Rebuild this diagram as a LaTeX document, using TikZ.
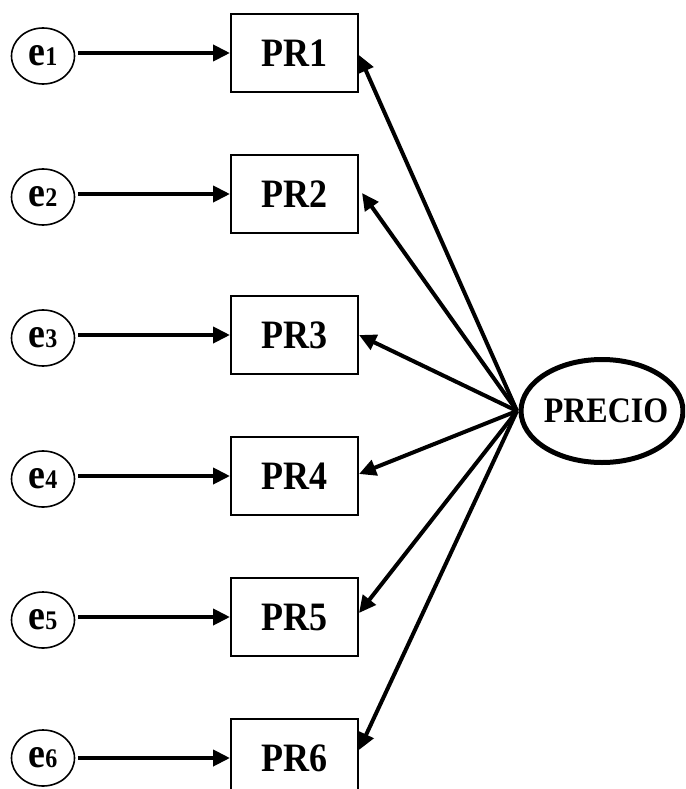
\documentclass[tikz,border=0pt]{standalone}
\usepackage{fontspec}
\setmainfont{Liberation Serif}
\usetikzlibrary{arrows.meta,shapes.geometric}
\newcommand{\tallbox}[1]{\scalebox{1}[1.12]{#1}}
\newcommand{\errlabel}[1]{\tallbox{\bfseries\fontsize{38}{38}\selectfont e\fontsize{24}{24}\selectfont #1}}
\begin{document}
\begin{tikzpicture}[x=1pt,y=-1pt,
  indicator/.style={draw,line width=2pt,minimum width=127pt,minimum height=78pt,
    inner sep=0pt,font=\fontsize{36}{36}\selectfont\bfseries},
  errterm/.style={draw,ellipse,line width=1.6pt,minimum width=63pt,
    minimum height=56pt,inner sep=0pt},
  latent/.style={draw,ellipse,line width=5pt,minimum width=162pt,
    minimum height=103pt,inner sep=0pt},
  latentname/.style={font=\fontsize{32}{32}\selectfont\bfseries,xshift=4pt},
  arr/.style={line width=4pt,-{Triangle[length=17pt,width=16pt]}}]
\useasboundingbox (0,0) rectangle (685,789);
\clip (0,0) rectangle (685,789);

% indicator boxes
\node[indicator] (pr1) at (294.5,53)  {\tallbox{PR1}};
\node[indicator] (pr2) at (294.5,194) {\tallbox{PR2}};
\node[indicator] (pr3) at (294.5,335) {\tallbox{PR3}};
\node[indicator] (pr4) at (294.5,476) {\tallbox{PR4}};
\node[indicator] (pr5) at (294.5,617) {\tallbox{PR5}};
\node[indicator] (pr6) at (294.5,758) {\tallbox{PR6}};

% error terms
\node[errterm] (e1) at (43,56)  {\errlabel{1}};
\node[errterm] (e2) at (43,197) {\errlabel{2}};
\node[errterm] (e3) at (43,338) {\errlabel{3}};
\node[errterm] (e4) at (43,479) {\errlabel{4}};
\node[errterm] (e5) at (43,620) {\errlabel{5}};
\node[errterm] (e6) at (43,758) {\errlabel{6}};

% latent factor, its name set as a centred label so the outline keeps its size
\node[latent,label={[latentname]center:\tallbox{PRECIO}}] (precio) at (602,411) {};
\coordinate (hub) at (517,411);

% error -> indicator
\foreach \i in {1,...,6}
  \draw[arr] ([xshift=3pt]e\i.east |- pr\i.west) -- (pr\i.west);

% factor -> indicators
\draw[arr] (hub) -- ([yshift=-2pt]pr1.east);
\draw[arr] (hub) -- ([xshift=3pt,yshift=1pt]pr2.east);
\draw[arr] (hub) -- (pr3.east);
\draw[arr] (hub) -- ([yshift=2pt]pr4.east);
\draw[arr] (hub) -- ([yshift=4pt]pr5.east);
\draw[arr] (hub) -- ([yshift=8pt]pr6.east);
\end{tikzpicture}
\end{document}
